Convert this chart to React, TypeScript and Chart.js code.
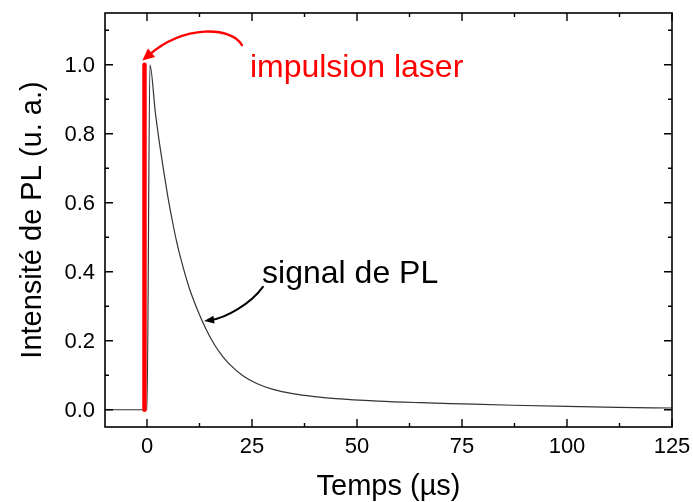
import React, { useEffect, useRef } from "react";
import { Chart, registerables } from "chart.js";

Chart.register(...registerables);

// ---- Data ----
const signalTime = [-10, -0.3, 0.0, 0.7, 2, 3, 4, 5, 6, 7, 8, 10, 12, 14, 16, 18, 20, 23, 26, 30, 35, 40, 45, 55, 65, 75, 87, 100, 112, 125];
const signalValue = [0, 0, 0, 1.0, 0.86, 0.77, 0.69, 0.615, 0.55, 0.49, 0.44, 0.355, 0.29, 0.235, 0.19, 0.155, 0.128, 0.097, 0.077, 0.059, 0.046, 0.038, 0.032, 0.025, 0.0205, 0.017, 0.013, 0.0095, 0.007, 0.005];
const laserTime = [-0.6, -0.6];
const laserValue = [0, 1.0];

const xMajorTicks = [0, 25, 50, 75, 100, 125];
const xMinorTicks = [12.5, 37.5, 62.5, 87.5, 112.5];
const yMajorTicks = [0, 0.2, 0.4, 0.6, 0.8, 1.0];
const yMinorTicks = [0.1, 0.3, 0.5, 0.7, 0.9, 1.1];

const xTitle = "Temps (µs)";
const yTitle = "Intensité de PL (u. a.)";
const laserLabel = "impulsion laser";
const signalLabel = "signal de PL";

// annotation anchors (data coordinates: [time, intensity])
const laserLabelAnchor = [24.5, 0.964];
const laserArrowPath = [[22.6, 1.057], [20.2, 1.11], [9.0, 1.118], [-1.1, 1.012]];
const signalLabelAnchor = [27.4, 0.367];
const signalArrowPath = [[27.6, 0.356], [24.5, 0.304], [18.6, 0.266], [13.6, 0.257]];

const FONT = '"Liberation Sans", Arial, Helvetica, sans-serif';

function drawArrow(ctx: CanvasRenderingContext2D, pts: number[][], color: string, width: number, headLen: number, headW: number) {
  ctx.save();
  ctx.strokeStyle = color;
  ctx.fillStyle = color;
  ctx.lineWidth = width;
  ctx.lineCap = "round";
  const [p0, c1, c2, p3] = pts;
  const dx = p3[0] - c2[0];
  const dy = p3[1] - c2[1];
  const len = Math.hypot(dx, dy) || 1;
  const ux = dx / len;
  const uy = dy / len;
  const endX = p3[0] - ux * headLen * 0.7;
  const endY = p3[1] - uy * headLen * 0.7;
  ctx.beginPath();
  ctx.moveTo(p0[0], p0[1]);
  ctx.bezierCurveTo(c1[0], c1[1], c2[0], c2[1], endX, endY);
  ctx.stroke();
  const bx = p3[0] - ux * headLen;
  const by = p3[1] - uy * headLen;
  ctx.beginPath();
  ctx.moveTo(p3[0], p3[1]);
  ctx.lineTo(bx - uy * headW, by + ux * headW);
  ctx.lineTo(bx + uy * headW, by - ux * headW);
  ctx.closePath();
  ctx.fill();
  ctx.restore();
}

const framePlugin = {
  id: "framePlugin",
  afterDraw(chart: any) {
    const { ctx, chartArea } = chart;
    const xs = chart.scales.x;
    const ys = chart.scales.y;
    const { left, right, top, bottom } = chartArea;
    ctx.save();
    ctx.strokeStyle = "#000";
    ctx.lineWidth = 1.6;
    ctx.strokeRect(left, top, right - left, bottom - top);
    ctx.lineWidth = 1.4;
    const tick = (vals: number[], len: number, horiz: boolean) => {
      vals.forEach((v) => {
        ctx.beginPath();
        if (horiz) {
          const px = xs.getPixelForValue(v);
          ctx.moveTo(px, bottom);
          ctx.lineTo(px, bottom - len);
          ctx.moveTo(px, top);
          ctx.lineTo(px, top + len);
        } else {
          const py = ys.getPixelForValue(v);
          ctx.moveTo(left, py);
          ctx.lineTo(left + len, py);
          ctx.moveTo(right, py);
          ctx.lineTo(right - len, py);
        }
        ctx.stroke();
      });
    };
    tick(xMajorTicks, 8, true);
    tick(xMinorTicks, 4, true);
    tick(yMajorTicks, 8, false);
    tick(yMinorTicks, 4, false);

    // tick labels
    ctx.fillStyle = "#000";
    ctx.font = `22px ${FONT}`;
    ctx.textBaseline = "middle";
    ctx.textAlign = "center";
    xMajorTicks.forEach((v) => {
      ctx.fillText(String(v), xs.getPixelForValue(v), bottom + 20);
    });
    ctx.textAlign = "right";
    yMajorTicks.forEach((v) => {
      ctx.fillText(v.toFixed(1), left - 10, ys.getPixelForValue(v) + 1);
    });

    // axis titles
    ctx.font = `29px ${FONT}`;
    ctx.textAlign = "center";
    ctx.textBaseline = "alphabetic";
    ctx.fillText(xTitle, (left + right) / 2, bottom + 68);
    ctx.save();
    ctx.translate(left - 64, (top + bottom) / 2);
    ctx.rotate(-Math.PI / 2);
    ctx.fillText(yTitle, 0, 0);
    ctx.restore();

    // annotations
    const toPx = (p: number[]) => [xs.getPixelForValue(p[0]), ys.getPixelForValue(p[1])];
    ctx.font = `32px ${FONT}`;
    ctx.textAlign = "left";
    ctx.fillStyle = "#ff0000";
    const lp = toPx(laserLabelAnchor);
    ctx.fillText(laserLabel, lp[0], lp[1]);
    ctx.fillStyle = "#000";
    const sp = toPx(signalLabelAnchor);
    ctx.fillText(signalLabel, sp[0], sp[1]);

    drawArrow(ctx, laserArrowPath.map(toPx), "#ff0000", 2.4, 12, 5.5);
    drawArrow(ctx, signalArrowPath.map(toPx), "#000", 2, 10, 4);
    ctx.restore();
  },
};

export default function App() {
  const canvasRef = useRef<HTMLCanvasElement | null>(null);

  useEffect(() => {
    if (!canvasRef.current) return;
    const chart = new Chart(canvasRef.current, {
      type: "scatter",
      data: {
        datasets: [
          {
            data: laserTime.map((t, i) => ({ x: t, y: laserValue[i] })),
            showLine: true,
            borderColor: "#ff0000",
            borderWidth: 4.5,
            borderCapStyle: "round",
            pointRadius: 0,
          },
          {
            data: signalTime.map((t, i) => ({ x: t, y: signalValue[i] })),
            showLine: true,
            borderColor: "#333333",
            borderWidth: 1.2,
            cubicInterpolationMode: "monotone",
            pointRadius: 0,
          },
        ],
      } as any,
      options: {
        animation: false,
        responsive: false,
        devicePixelRatio: 1,
        layout: { padding: { top: 13, right: 21, left: 0, bottom: 0 } },
        plugins: { legend: { display: false }, tooltip: { enabled: false } },
        scales: {
          x: {
            type: "linear",
            min: -10,
            max: 125,
            afterBuildTicks: (s: any) => {
              s.ticks = xMajorTicks.map((v) => ({ value: v }));
            },
            afterFit: (s: any) => {
              s.height = 75;
            },
            ticks: { display: false },
            grid: { display: false, drawTicks: false },
            border: { display: false },
          },
          y: {
            type: "linear",
            min: -0.05,
            max: 1.15,
            afterBuildTicks: (s: any) => {
              s.ticks = yMajorTicks.map((v) => ({ value: v }));
            },
            afterFit: (s: any) => {
              s.width = 105;
            },
            ticks: { display: false },
            grid: { display: false, drawTicks: false },
            border: { display: false },
          },
        },
      } as any,
      plugins: [framePlugin],
    });
    return () => chart.destroy();
  }, []);

  return (
    <div style={{ position: "fixed", left: 0, top: 0, width: 693, height: 502, background: "#fff" }}>
      <canvas ref={canvasRef} width={693} height={502} style={{ width: 693, height: 502 }} />
    </div>
  );
}
